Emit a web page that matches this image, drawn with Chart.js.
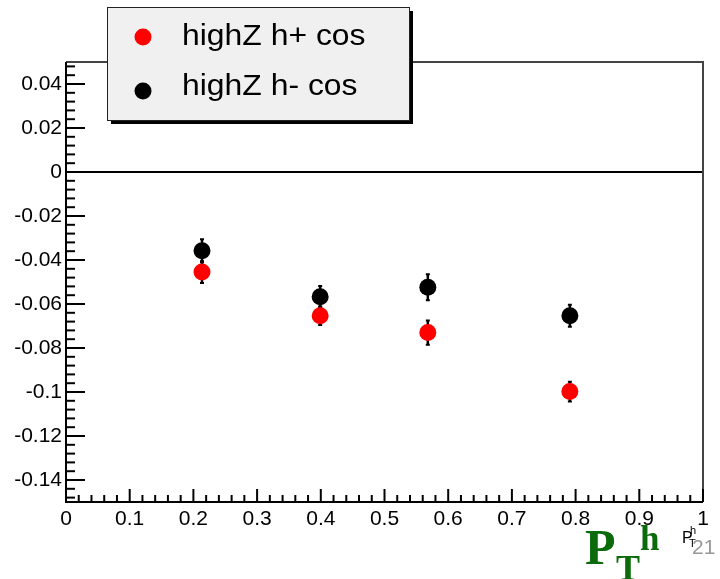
<!DOCTYPE html>
<html>
<head>
<meta charset="utf-8">
<script src="https://cdn.jsdelivr.net/npm/chart.js@4/dist/chart.umd.min.js"></script>
<style>
  body { margin: 0; background: #fff; }
  #wrap { position: relative; width: 720px; height: 579px; overflow: hidden; }
  .big { position: absolute; color: #0b6b0b; font-family: "Liberation Serif", "DejaVu Serif", serif; font-weight: bold; }
  .small { position: absolute; font-family: "Liberation Sans", Arial, sans-serif; }
</style>
</head>
<body>
<div id="wrap">
  <canvas id="theChart" width="720" height="579"></canvas>
  <span class="big" style="left:585px; top:518px; font-size:50px;">P</span>
  <span class="big" style="left:616px; top:547px; font-size:36px;">T</span>
  <span class="big" style="left:640px; top:519px; font-size:35px;">h</span>
  <span class="small" style="left:682px; top:529px; font-size:16px; color:#000;">P</span>
  <span class="small" style="left:690px; top:524px; font-size:11px; color:#000;">h</span>
  <span class="small" style="left:689px; top:537px; font-size:11px; color:#000;">T</span>
  <span class="small" style="left:692px; top:535px; font-size:21px; color:#999;">21</span>
</div>
<script>
// values
const ptBins = [0.2135, 0.399, 0.568, 0.791];
const hPlus = [-0.0455, -0.0653, -0.073, -0.0998];
const hPlusErr = [0.0049, 0.0042, 0.0055, 0.0045];
const hMinus = [-0.0358, -0.0567, -0.0524, -0.0653];
const hMinusErr = [0.0052, 0.0049, 0.0059, 0.005];
const seriesLabels = ['highZ h+ cos', 'highZ h- cos'];
const yTickValues = [-0.14, -0.12, -0.1, -0.08, -0.06, -0.04, -0.02, 0, 0.02, 0.04];
const xTickValues = [0, 0.1, 0.2, 0.3, 0.4, 0.5, 0.6, 0.7, 0.8, 0.9, 1];

const toPoints = (ys) => ptBins.map((x, i) => ({ x: x, y: ys[i] }));
const fmt = (v) => String(parseFloat(Number(v).toFixed(3)));

// root-ish frame, zero line, inward ticks, error bars
const rootStyle = {
  id: 'rootStyle',
  beforeDatasetsDraw(chart) {
    const ctx = chart.ctx;
    const { left, right } = chart.chartArea;
    const xs = chart.scales.x, ys = chart.scales.y;
    ctx.save();

    // zero line
    ctx.strokeStyle = '#000';
    ctx.lineWidth = 2;
    const y0 = ys.getPixelForValue(0);
    ctx.beginPath(); ctx.moveTo(left, y0); ctx.lineTo(right, y0); ctx.stroke();

    // error bars
    const errs = [hPlusErr, hMinusErr];
    chart.data.datasets.forEach((ds, d) => {
      ds.data.forEach((p, i) => {
        const px = xs.getPixelForValue(p.x);
        const pHi = ys.getPixelForValue(p.y + errs[d][i]);
        const pLo = ys.getPixelForValue(p.y - errs[d][i]);
        ctx.lineWidth = 2.5;
        ctx.beginPath(); ctx.moveTo(px, pHi); ctx.lineTo(px, pLo); ctx.stroke();
        ctx.lineWidth = 2;
        ctx.beginPath();
        ctx.moveTo(px - 2, pHi); ctx.lineTo(px + 2, pHi);
        ctx.moveTo(px - 2, pLo); ctx.lineTo(px + 2, pLo);
        ctx.stroke();
      });
    });
    ctx.restore();
  },
  afterDatasetsDraw(chart) {
    const ctx = chart.ctx;
    const { left, right, top, bottom } = chart.chartArea;
    const xs = chart.scales.x, ys = chart.scales.y;
    ctx.save();

    // frame
    ctx.lineWidth = 2;
    ctx.strokeStyle = '#444';
    ctx.beginPath(); ctx.moveTo(left, top); ctx.lineTo(right, top); ctx.lineTo(right, bottom); ctx.stroke();
    ctx.strokeStyle = '#000';
    ctx.beginPath(); ctx.moveTo(left, top); ctx.lineTo(left, bottom); ctx.lineTo(right, bottom); ctx.stroke();

    // inward ticks, 5 subdivisions between majors
    ctx.lineWidth = 2;
    const yMinor = 0.004, xMinor = 0.02;
    for (let k = Math.ceil(ys.min / yMinor - 1e-6); k * yMinor <= ys.max + 1e-9; k++) {
      const major = k % 5 === 0;
      const py = ys.getPixelForValue(k * yMinor);
      ctx.beginPath(); ctx.moveTo(left, py); ctx.lineTo(left + (major ? 19 : 9), py); ctx.stroke();
    }
    for (let k = Math.ceil(xs.min / xMinor - 1e-6); k * xMinor <= xs.max + 1e-9; k++) {
      const major = k % 5 === 0;
      const px = xs.getPixelForValue(k * xMinor);
      ctx.beginPath(); ctx.moveTo(px, bottom); ctx.lineTo(px, bottom - (major ? 13 : 7)); ctx.stroke();
    }
    ctx.restore();
  },
  afterDraw(chart) {
    // legend box with drop shadow
    const ctx = chart.ctx;
    ctx.save();
    const bx = 107, by = 7, bw = 302, bh = 113;
    ctx.fillStyle = '#000';
    ctx.fillRect(bx + 4, by + 4, bw, bh);
    ctx.fillStyle = '#f0f0f0';
    ctx.fillRect(bx, by, bw, bh);
    ctx.strokeStyle = '#222';
    ctx.lineWidth = 1;
    ctx.strokeRect(bx + 0.5, by + 0.5, bw, bh);

    const rows = [37, 91];
    const base = [45, 95];
    chart.data.datasets.forEach((ds, d) => {
      ctx.fillStyle = ds.backgroundColor;
      ctx.beginPath(); ctx.arc(143, rows[d], 8.5, 0, Math.PI * 2); ctx.fill();
      ctx.fillStyle = '#000';
      ctx.font = '29px "Liberation Sans", Arial, sans-serif';
      ctx.textBaseline = 'alphabetic';
      ctx.save();
      ctx.translate(182, base[d]);
      ctx.scale(1.1, 1);
      ctx.fillText(ds.label, 0, 0);
      ctx.restore();
    });
    ctx.restore();
  }
};

const tickFont = { size: 21, family: '"Liberation Sans", Arial, sans-serif' };

const cfg = {
  type: 'scatter',
  data: {
    datasets: [
      {
        label: seriesLabels[0],
        data: toPoints(hPlus),
        backgroundColor: '#ff0000',
        borderColor: '#ff0000',
        pointRadius: 8.5,
        borderWidth: 0
      },
      {
        label: seriesLabels[1],
        data: toPoints(hMinus),
        backgroundColor: '#000000',
        borderColor: '#000000',
        pointRadius: 8.5,
        borderWidth: 0
      }
    ]
  },
  options: {
    responsive: false,
    animation: false,
    layout: { padding: { top: 62, right: 17, left: 0, bottom: 0 } },
    scales: {
      x: {
        type: 'linear',
        min: 0,
        max: 1,
        grid: { display: false, drawTicks: false },
        border: { display: false },
        ticks: { padding: 5, color: '#000', font: tickFont, callback: fmt },
        afterBuildTicks: (s) => { s.ticks = xTickValues.map(v => ({ value: v })); },
        afterFit: (s) => { s.height = 77; }
      },
      y: {
        min: -0.15,
        max: 0.05,
        grid: { display: false, drawTicks: false },
        border: { display: false },
        ticks: { padding: 4, color: '#000', font: tickFont, callback: fmt },
        afterBuildTicks: (s) => { s.ticks = yTickValues.map(v => ({ value: v })); },
        afterFit: (s) => { s.width = 66; }
      }
    },
    plugins: {
      legend: { display: false },
      tooltip: { enabled: false }
    }
  },
  plugins: [rootStyle]
};

const myChart = new Chart(document.getElementById('theChart').getContext('2d'), cfg);
</script>
</body>
</html>
